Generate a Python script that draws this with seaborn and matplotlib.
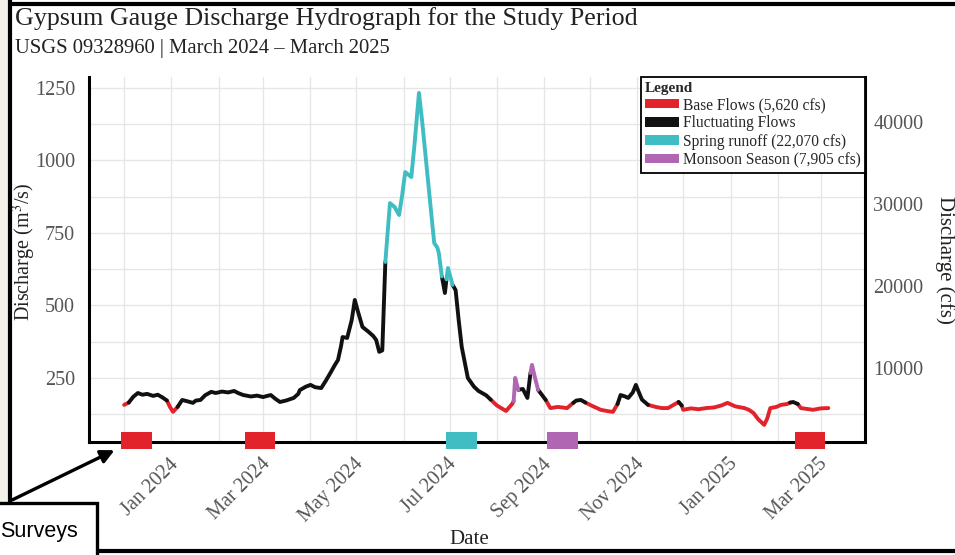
import pandas as pd
import matplotlib
matplotlib.use("Agg")
import matplotlib.pyplot as plt
import matplotlib.dates as mdates
import matplotlib.transforms as mtransforms
from matplotlib.patches import Patch, Rectangle, FancyArrowPatch
from matplotlib.lines import Line2D
import seaborn as sns

# ---- daily discharge trace (m3/s) and the flow regime of each reading ----
dates = [
    "2023-12-01", "2023-12-04", "2023-12-07", "2023-12-10", "2023-12-13", "2023-12-16",
    "2023-12-20", "2023-12-23", "2023-12-26", "2023-12-29", "2023-12-31", "2024-01-02",
    "2024-01-05", "2024-01-08", "2024-01-11", "2024-01-15", "2024-01-17", "2024-01-20",
    "2024-01-23", "2024-01-27", "2024-01-30", "2024-02-03", "2024-02-07", "2024-02-11",
    "2024-02-14", "2024-02-17", "2024-02-22", "2024-02-26", "2024-03-01", "2024-03-03",
    "2024-03-06", "2024-03-09", "2024-03-12", "2024-03-16", "2024-03-21", "2024-03-24",
    "2024-03-25", "2024-03-29", "2024-04-01", "2024-04-04", "2024-04-08", "2024-04-11",
    "2024-04-14", "2024-04-17", "2024-04-19", "2024-04-21", "2024-04-22", "2024-04-25",
    "2024-04-28", "2024-04-30", "2024-05-02", "2024-05-05", "2024-05-09", "2024-05-12",
    "2024-05-14", "2024-05-16", "2024-05-18", "2024-05-20", "2024-05-23", "2024-05-26",
    "2024-05-29", "2024-05-31", "2024-06-02", "2024-06-06", "2024-06-08", "2024-06-11",
    "2024-06-13", "2024-06-16", "2024-06-19", "2024-06-21", "2024-06-23", "2024-06-24",
    "2024-06-26", "2024-06-28", "2024-06-29", "2024-06-30", "2024-07-03", "2024-07-05",
    "2024-07-07", "2024-07-09", "2024-07-13", "2024-07-17", "2024-07-20", "2024-07-25",
    "2024-07-28", "2024-08-01", "2024-08-07", "2024-08-11", "2024-08-12", "2024-08-13",
    "2024-08-15", "2024-08-18", "2024-08-21", "2024-08-23", "2024-08-24", "2024-08-26",
    "2024-08-28", "2024-09-02", "2024-09-05", "2024-09-10", "2024-09-16", "2024-09-20",
    "2024-09-22", "2024-09-25", "2024-09-28", "2024-10-01", "2024-10-08", "2024-10-13",
    "2024-10-16", "2024-10-19", "2024-10-21", "2024-10-24", "2024-10-26", "2024-10-29",
    "2024-10-31", "2024-11-02", "2024-11-04", "2024-11-08", "2024-11-13", "2024-11-17",
    "2024-11-21", "2024-11-24", "2024-11-28", "2024-11-30", "2024-12-01", "2024-12-06",
    "2024-12-11", "2024-12-16", "2024-12-21", "2024-12-26", "2024-12-30", "2025-01-04",
    "2025-01-10", "2025-01-13", "2025-01-16", "2025-01-19", "2025-01-23", "2025-01-25",
    "2025-01-27", "2025-01-31", "2025-02-03", "2025-02-07", "2025-02-09", "2025-02-11",
    "2025-02-14", "2025-02-16", "2025-02-20", "2025-02-24", "2025-03-01", "2025-03-06",
]
discharge_cms = [
    157, 165, 185, 198, 192, 195,
    188, 192, 183, 172, 150, 133,
    150, 174, 170, 164, 172, 174,
    190, 202, 198, 203, 200, 205,
    197, 191, 186, 189, 184, 187,
    191, 178, 167, 172, 181, 195,
    208, 220, 226, 218, 215, 240,
    267, 295, 312, 360, 391, 388,
    450, 519, 480, 426, 409, 395,
    381, 340, 345, 650, 853, 840,
    812, 880, 960, 943, 1050, 1233,
    1140, 980, 820, 715, 700, 681,
    600, 543, 590, 629, 571, 553,
    450, 357, 250, 220, 205, 190,
    175, 155, 136, 160, 170, 250,
    209, 212, 181, 267, 295, 250,
    209, 174, 146, 150, 146, 164,
    172, 174, 165, 157, 140, 135,
    133, 160, 191, 186, 181, 200,
    226, 200, 175, 157, 150, 146,
    146, 155, 167, 155, 140, 145,
    142, 146, 148, 155, 164, 152,
    146, 140, 129, 108, 88, 110,
    146, 150, 157, 160, 165, 167,
    160, 146, 143, 140, 145, 146,
]
regime = [
    "base", "fluct", "fluct", "fluct", "fluct", "fluct",
    "fluct", "fluct", "fluct", "base", "base", "base",
    "fluct", "fluct", "fluct", "fluct", "fluct", "fluct",
    "fluct", "fluct", "fluct", "fluct", "fluct", "fluct",
    "fluct", "fluct", "fluct", "fluct", "fluct", "fluct",
    "fluct", "fluct", "fluct", "fluct", "fluct", "fluct",
    "fluct", "fluct", "fluct", "fluct", "fluct", "fluct",
    "fluct", "fluct", "fluct", "fluct", "fluct", "fluct",
    "fluct", "fluct", "fluct", "fluct", "fluct", "fluct",
    "fluct", "fluct", "fluct", "spring", "spring", "spring",
    "spring", "spring", "spring", "spring", "spring", "spring",
    "spring", "spring", "spring", "spring", "spring", "spring",
    "fluct", "fluct", "spring", "spring", "fluct", "fluct",
    "fluct", "fluct", "fluct", "fluct", "fluct", "fluct",
    "base", "base", "base", "base", "monsoon", "monsoon",
    "fluct", "fluct", "fluct", "monsoon", "monsoon", "monsoon",
    "fluct", "base", "base", "base", "base", "fluct",
    "fluct", "fluct", "base", "base", "base", "base",
    "base", "fluct", "fluct", "fluct", "fluct", "fluct",
    "fluct", "fluct", "fluct", "base", "base", "base",
    "base", "base", "fluct", "base", "base", "base",
    "base", "base", "base", "base", "base", "base",
    "base", "base", "base", "base", "base", "base",
    "base", "base", "base", "base", "fluct", "fluct",
    "base", "base", "base", "base", "base", "base",
]

# ---- survey campaigns shown along the date axis ----
survey_dates = ["2023-12-09", "2024-02-28", "2024-07-09", "2024-09-13", "2025-02-22"]
survey_regime = ["base", "base", "spring", "monsoon", "base"]

regime_order = ["base", "fluct", "spring", "monsoon"]
regime_labels = {
    "base": "Base Flows (5,620 cfs)",
    "fluct": "Fluctuating Flows",
    "spring": "Spring runoff (22,070 cfs)",
    "monsoon": "Monsoon Season (7,905 cfs)",
}
palette = {"base": "#e3232b", "fluct": "#111111", "spring": "#3fbdc3", "monsoon": "#b066b2"}

left_ticks = [250, 500, 750, 1000, 1250]
right_ticks = [10000, 20000, 30000, 40000]
CFS_PER_CMS = 35.3147

sns.set_theme(style="whitegrid")
plt.rcParams["font.family"] = ["Liberation Serif", "DejaVu Serif"]
plt.rcParams["mathtext.fontset"] = "stix"

df = pd.DataFrame({"date": pd.to_datetime(dates), "q": discharge_cms, "regime": regime})

# split the trace into runs of one regime; each run also takes the first point
# of the following run so the coloured pieces join up
run_id = (df["regime"] != df["regime"].shift()).cumsum()
pieces = []
for rid, grp in df.groupby(run_id):
    idx = grp.index.tolist()
    if idx[-1] + 1 < len(df):
        idx.append(idx[-1] + 1)
    piece = df.loc[idx].copy()
    piece["regime"] = grp["regime"].iloc[0]
    piece["run"] = rid
    pieces.append(piece)
segs = pd.concat(pieces, ignore_index=True)

W, H = 955, 555
fig = plt.figure(figsize=(W / 100, H / 100), dpi=100)
fig.patch.set_facecolor("white")


def fx(px):
    return px / W


def fy(py):
    return 1 - py / H


ax = fig.add_axes([fx(89), fy(442), fx(865 - 89), (442 - 77) / H])
ax.set_facecolor("white")

sns.lineplot(data=segs, x="date", y="q", hue="regime", units="run", estimator=None,
             palette=palette, linewidth=2.8, legend=False, sort=False, ax=ax,
             solid_capstyle="round", solid_joinstyle="round", zorder=3)

ymin, ymax = 29, 1288
ax.set_ylim(ymin, ymax)
ax.set_xlim(pd.Timestamp("2023-11-08"), pd.Timestamp("2025-03-30"))

# survey markers sitting on the date axis
ax.bar(pd.to_datetime(survey_dates), height=59, bottom=4.5, width=20,
       color=[palette[r] for r in survey_regime], clip_on=False, zorder=6, linewidth=0)

ax.xaxis.set_major_locator(mdates.MonthLocator(bymonth=[1, 3, 5, 7, 9, 11]))
ax.xaxis.set_minor_locator(mdates.MonthLocator())
ax.xaxis.set_major_formatter(mdates.DateFormatter("%b %Y"))
ax.set_yticks(left_ticks)
ax.set_yticks([125, 375, 625, 875, 1125], minor=True)
ax.grid(True, which="both", color="#e6e6e6", linewidth=1.0)
ax.set_axisbelow(True)

ax.tick_params(axis="both", which="both", length=0)
ax.tick_params(axis="y", labelsize=14.5, labelcolor="#555555", pad=10)
ax.tick_params(axis="x", labelsize=14.5, labelcolor="#555555", pad=14)
for lab in ax.get_xticklabels():
    lab.set_rotation(45)
    lab.set_ha("right")
    lab.set_va("center")
    lab.set_rotation_mode("anchor")
    lab.set_transform(lab.get_transform() + mtransforms.ScaledTranslation(3 / 72, 0, fig.dpi_scale_trans))

for side in ["left", "bottom", "right"]:
    ax.spines[side].set_visible(True)
    ax.spines[side].set_color("black")
    ax.spines[side].set_linewidth(2.2)
ax.spines["top"].set_visible(False)

ax.set_xlabel("Date", fontsize=15, color="#222222", va="center")
ax.xaxis.set_label_coords(0.49, -0.268)
ax.set_ylabel("Discharge (m$^3$/s)", fontsize=14.5, color="#222222", va="center", ha="center")
ax.yaxis.set_label_coords(-0.083, 0.52)

# secondary scale in cubic feet per second
ax2 = ax.twinx()
ax2.set_ylim(ymin * CFS_PER_CMS, ymax * CFS_PER_CMS)
ax2.set_yticks(right_ticks)
ax2.grid(False)
for s in ax2.spines.values():
    s.set_visible(False)
ax2.tick_params(axis="y", length=0, labelsize=14.5, labelcolor="#555555", pad=6)
ax2.set_ylabel("Discharge (cfs)", fontsize=15, color="#222222", rotation=270, va="center", ha="center")
ax2.yaxis.set_label_coords(1.103, 0.5)

handles = [Patch(facecolor=palette[k], edgecolor="none", label=regime_labels[k]) for k in regime_order]
leg = ax2.legend(handles=handles, loc="upper right", bbox_to_anchor=(1.0, 1.0), borderaxespad=0,
                 title="Legend", alignment="left", fontsize=11.2,
                 title_fontproperties={"weight": "bold", "size": 11},
                 frameon=True, fancybox=False, framealpha=1, edgecolor="black",
                 handlelength=2.2, handleheight=0.6, handletextpad=0.2, labelspacing=0.15,
                 borderpad=0.3)
leg.get_frame().set_linewidth(1.3)
leg.set_zorder(10)

# titles
fig.text(fx(15), fy(7), "Gypsum Gauge Discharge Hydrograph for the Study Period",
         fontsize=18.7, color="#222222", va="top", ha="left")
fig.text(fx(15), fy(48), "USGS 09328960 | March 2024 \u2013 March 2025",
         fontsize=14.9, color="#222222", va="center", ha="left")

# page frame
fig.add_artist(Rectangle((0, 0), fx(10), 1, transform=fig.transFigure,
                         facecolor="#f4f0ea", edgecolor="none", zorder=0))
frame_kw = dict(transform=fig.transFigure, color="black", linewidth=3.0, zorder=20)
fig.add_artist(Line2D([fx(10), 1], [fy(4), fy(4)], **frame_kw))
fig.add_artist(Line2D([fx(10), fx(10)], [1, fy(503)], **frame_kw))
fig.add_artist(Line2D([fx(97), 1], [fy(551), fy(551)], **frame_kw))

# survey call-out
fig.add_artist(Rectangle((fx(-5), fy(560)), fx(102), (560 - 503) / H, transform=fig.transFigure,
                         facecolor="white", edgecolor="black", linewidth=2.4, zorder=21))
fig.text(fx(78), fy(531), "Surveys", fontsize=15.5, family="Liberation Sans",
         color="black", ha="right", va="center", zorder=22)
fig.add_artist(FancyArrowPatch((fx(10), fy(501)), (fx(117), fy(449)), transform=fig.transFigure,
                               arrowstyle="-|>", mutation_scale=20, linewidth=2.4,
                               color="black", zorder=22))

fig.savefig("out.png", dpi=100)
